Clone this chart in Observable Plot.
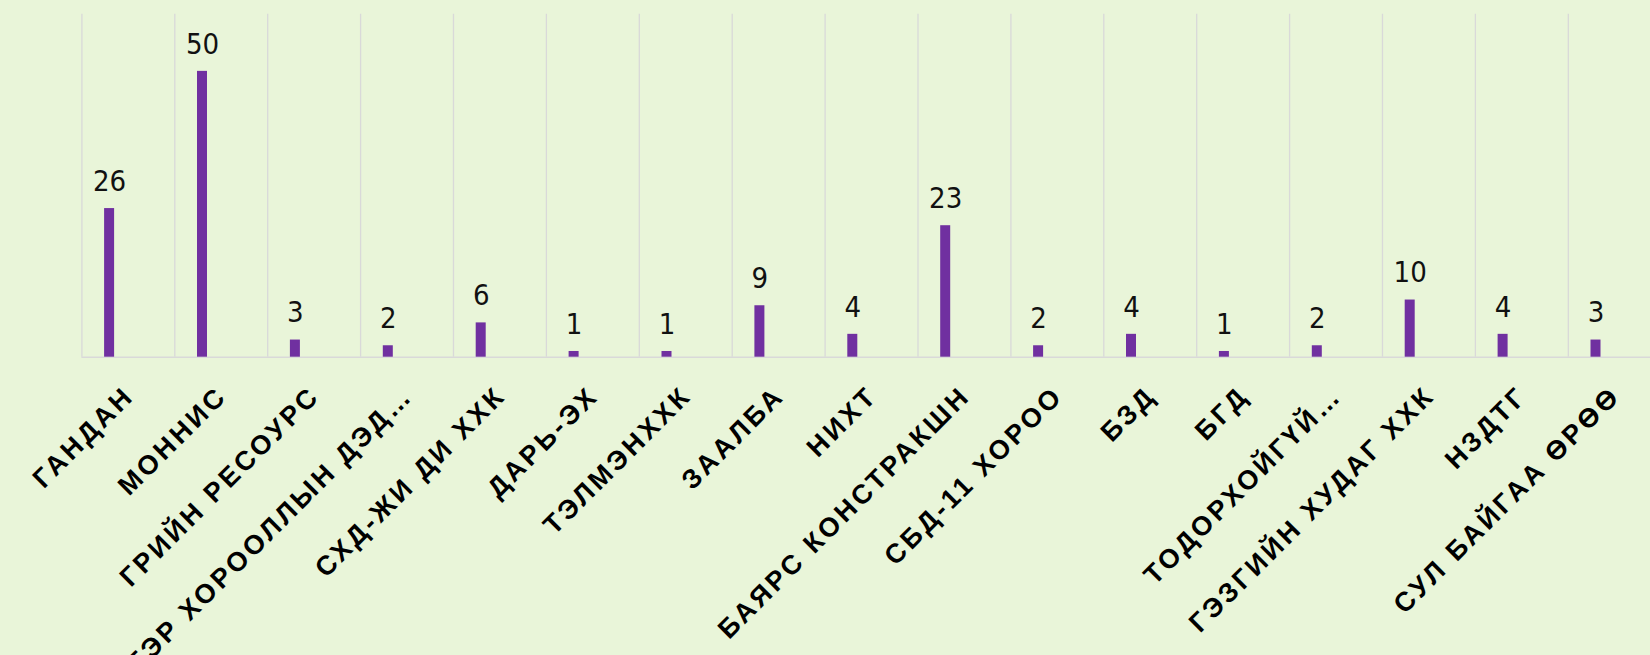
<!DOCTYPE html>
<html>
<head>
<meta charset="utf-8">
<script src="https://cdn.jsdelivr.net/npm/d3@7"></script>
<script src="https://cdn.jsdelivr.net/npm/@observablehq/plot@0.6"></script>
<style>
  html, body { margin: 0; padding: 0; background: #e9f5d9; overflow: hidden; }
  #chart svg { overflow: hidden; display: block; }
</style>
</head>
<body>
<div id="chart"></div>
<script>
const categories = [
  "ГАНДАН", "МОННИС", "ГРИЙН РЕСОУРС", "ГЭР ХОРООЛЛЫН ДЭД…", "СХД-ЖИ ДИ ХХК",
  "ДАРЬ-ЭХ", "ТЭЛМЭНХХК", "ЗААЛБА", "НИХТ", "БАЯРС КОНСТРАКШН",
  "СБД-11 ХОРОО", "БЗД", "БГД", "ТОДОРХОЙГҮЙ…", "ГЭЗГИЙН ХУДАГ ХХК",
  "НЗДТГ", "СУЛ БАЙГАА ӨРӨӨ"
];
const values = [26, 50, 3, 2, 6, 1, 1, 9, 4, 23, 2, 4, 1, 2, 10, 4, 3];
const yMax = 60;

const data = categories.map((name, i) => ({name, value: values[i]}));

const W = 1650, H = 655;
const plotLeft = 81.4, step = 92.9;
const plotRight = plotLeft + step * categories.length;
const plotTop = 13.7, plotBase = 356.7;
const bw = step;
const barOff = 22.7, barW = 10;
const ls = 3.2;

const chart = Plot.plot({
  width: W,
  height: H,
  marginLeft: plotLeft,
  marginRight: 0,
  marginTop: plotTop,
  marginBottom: H - plotBase,
  style: {background: "#e9f5d9", overflow: "hidden"},
  x: {type: "band", domain: categories, range: [plotLeft, plotRight], padding: 0, round: false, axis: null},
  y: {domain: [0, yMax], axis: null},
  marks: [
    Plot.ruleX(categories, {x: d => d, dx: -bw / 2, y1: 0, y2: yMax, stroke: "#d9d9d9", strokeWidth: 1.3}),
    Plot.ruleY([0], {stroke: "#d9d9d9", strokeWidth: 1.5}),
    Plot.barY(data, {x: "name", y: "value", fill: "#7030a0",
      insetLeft: barOff, insetRight: bw - barOff - barW}),
    Plot.text(data, {x: "name", y: "value", text: d => String(d.value),
      dx: barOff + barW / 2 - bw / 2, dy: -17.7, lineAnchor: "bottom", textAnchor: "middle",
      fontFamily: "'Liberation Sans Narrow', 'DejaVu Sans Condensed', sans-serif",
      fontSize: 29, fill: "#111"}),
    Plot.text(categories, {x: d => d, frameAnchor: "bottom", text: d => d,
      rotate: -45, textAnchor: "end", lineAnchor: "bottom",
      dx: 5 + ls * 0.707, dy: 42.5 - ls * 0.707,
      fontFamily: "'Liberation Sans', Arial, sans-serif", fontWeight: "bold",
      fontSize: 27, fill: "#000"})
  ]
});
const textGroups = chart.querySelectorAll('g[aria-label="text"]');
if (textGroups.length > 1) {
  textGroups[1].querySelectorAll("text").forEach(t => { t.style.letterSpacing = ls + "px"; });
}
document.getElementById("chart").appendChild(chart);
</script>
</body>
</html>
